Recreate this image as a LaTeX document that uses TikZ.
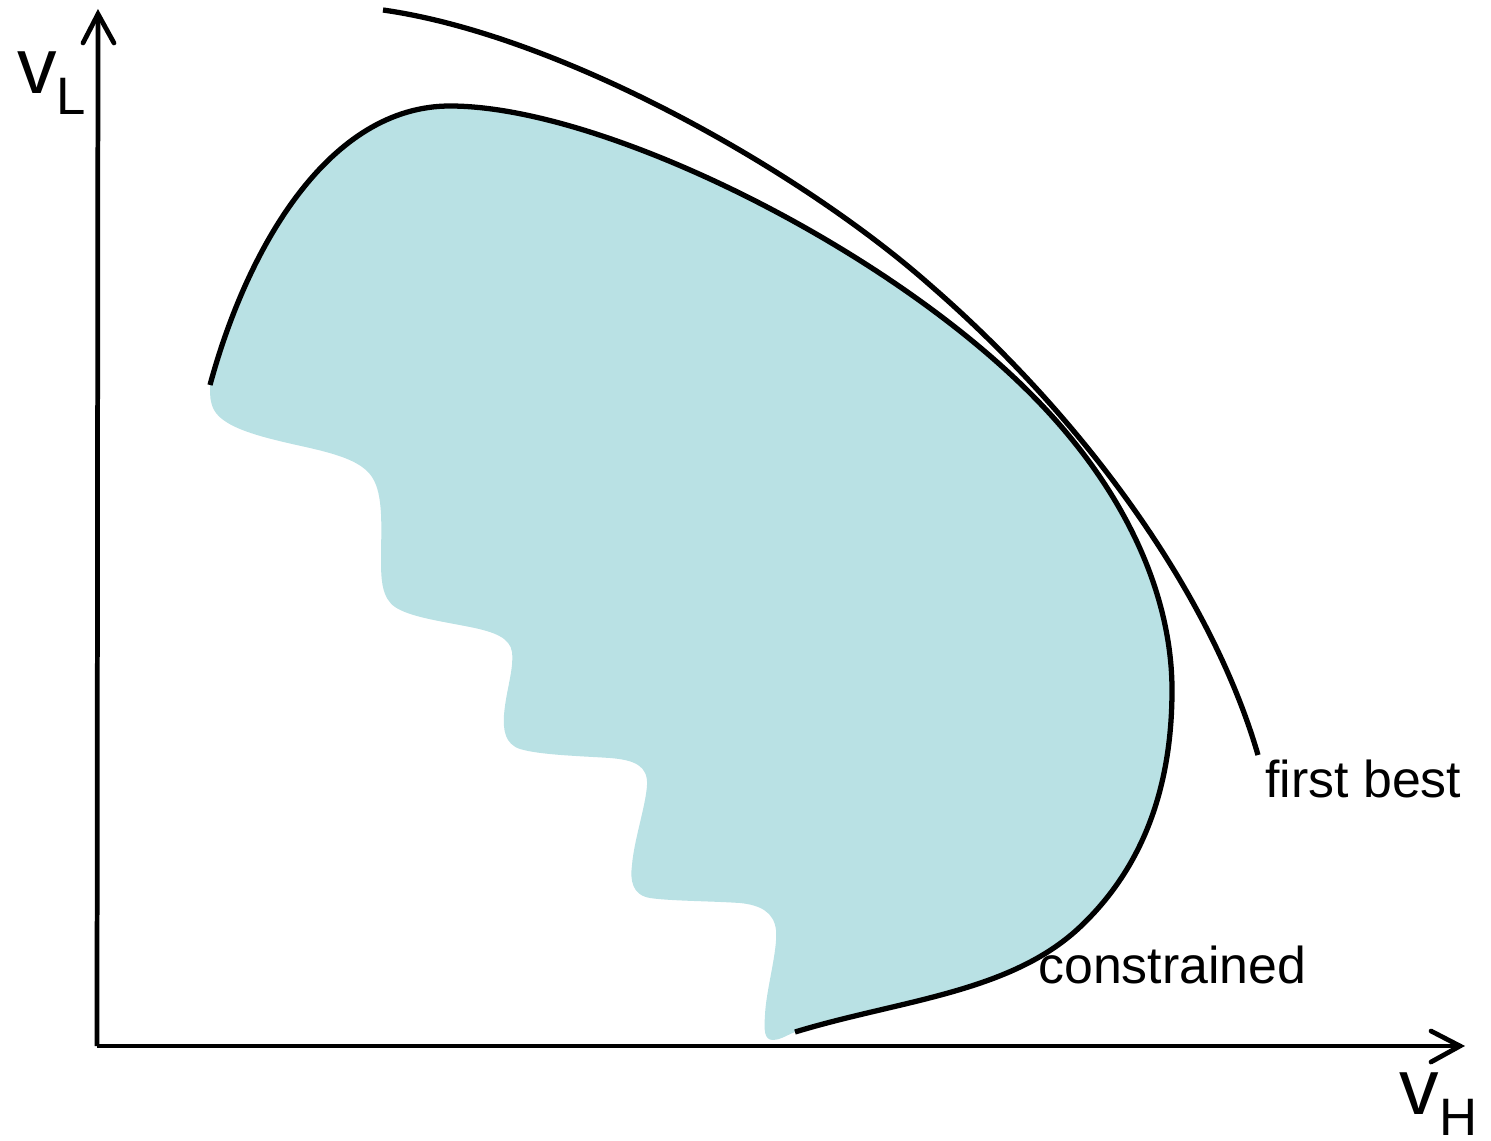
\documentclass[tikz,border=0pt]{standalone}
\usepackage{fontspec}
\setmainfont{Liberation Sans}
\definecolor{fillteal}{RGB}{185,225,228}
\newcommand\innerfront{(210,385) .. controls (248,245) and (330,106) .. (450,106)
  .. controls (600,106) and (880,243) .. (1030,393)
  .. controls (1130,493) and (1172,600) .. (1172,690)
  .. controls (1172,800) and (1135,875) .. (1080,927)
  .. controls (1010,993) and (900,1000) .. (795,1032)}
\begin{document}
\begin{tikzpicture}[x=0.02cm,y=-0.02cm,
  curve/.style={line width=3pt},
  axis/.style={line width=2.7pt},
  barb/.style={line width=2.7pt, line cap=round, line join=miter},
  lbl/.style={inner sep=0pt, anchor=base west, font=\fontsize{29.5}{30}\selectfont},
  big/.style={inner sep=0pt, anchor=base west, font=\fontsize{45}{45}\selectfont},
  sub/.style={inner sep=0pt, anchor=base west, font=\fontsize{30}{30}\selectfont}]
\useasboundingbox (0,0) rectangle (1491,1140);

% shaded region
\fill[fillteal] \innerfront
  .. controls (785,1036) and (780,1040) .. (773,1040)
  .. controls (764,1040) and (764,1030) .. (765,1015)
  .. controls (766,990) and (778,950) .. (776,930)
  .. controls (774,912) and (760,905) .. (740,903)
  .. controls (710,901) and (670,901) .. (650,898)
  .. controls (632,895) and (630,880) .. (632,865)
  .. controls (634,840) and (646,805) .. (647,785)
  .. controls (648,766) and (635,760) .. (610,758)
  .. controls (580,756) and (540,755) .. (520,749)
  .. controls (505,744) and (503,730) .. (504,715)
  .. controls (506,690) and (514,670) .. (512,652)
  .. controls (510,638) and (495,632) .. (470,627)
  .. controls (440,621) and (410,617) .. (395,607)
  .. controls (382,598) and (381,580) .. (381,560)
  .. controls (381,530) and (384,495) .. (372,477)
  .. controls (362,462) and (340,455) .. (310,448)
  .. controls (270,439) and (225,430) .. (214,410)
  .. controls (210,402) and (210,395) .. (210,388)
  -- cycle;

% constrained frontier
\draw[curve] \innerfront;

% first best frontier
\draw[curve] (383,10) .. controls (560,35) and (800,170) .. (930,285)
  .. controls (1080,415) and (1210,590) .. (1258,755);

% axes
\coordinate (O) at (97,1046);
\coordinate (ytip) at (98,14);
\coordinate (xtip) at (1460,1046);
\draw[axis] (O) -- (ytip);
\draw[axis] (O) -- (xtip);
\draw[barb] ([shift={(-15,29)}]ytip) -- (ytip) -- ([shift={(16,29)}]ytip);
\draw[barb] ([shift={(-29,-15)}]xtip) -- (xtip) -- ([shift={(-29,16)}]xtip);

% labels
\node[big] (vL) at (17,93) {v};
\node[sub] (vLs) at (56,114) {L};
\node[big] (vH) at (1399,1114) {v};
\node[sub] (vHs) at (1439,1135) {H};
\node[lbl] (fb) at (1265,797) {first best};
\node[lbl] (cs) at (1038,983) {constrained};
\end{tikzpicture}
\end{document}
